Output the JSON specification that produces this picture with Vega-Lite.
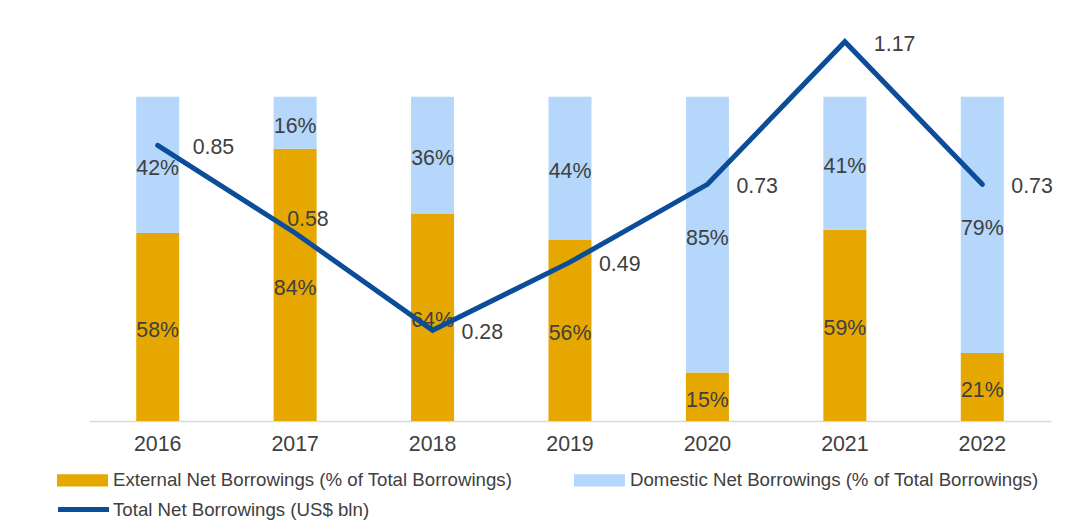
{
  "$schema": "https://vega.github.io/schema/vega-lite/v6.json",
  "width": 962,
  "height": 389,
  "autosize": {"type": "none"},
  "padding": {"left": 89, "top": 32, "right": 20, "bottom": 110},
  "background": "white",
  "config": {"view": {"stroke": null}, "font": "Liberation Sans"},
  "datasets": {
    "shares": [
      {"year": "2016", "type": "External Net Borrowings (% of Total Borrowings)", "share": 0.58},
      {"year": "2016", "type": "Domestic Net Borrowings (% of Total Borrowings)", "share": 0.42},
      {"year": "2017", "type": "External Net Borrowings (% of Total Borrowings)", "share": 0.84},
      {"year": "2017", "type": "Domestic Net Borrowings (% of Total Borrowings)", "share": 0.16},
      {"year": "2018", "type": "External Net Borrowings (% of Total Borrowings)", "share": 0.64},
      {"year": "2018", "type": "Domestic Net Borrowings (% of Total Borrowings)", "share": 0.36},
      {"year": "2019", "type": "External Net Borrowings (% of Total Borrowings)", "share": 0.56},
      {"year": "2019", "type": "Domestic Net Borrowings (% of Total Borrowings)", "share": 0.44},
      {"year": "2020", "type": "External Net Borrowings (% of Total Borrowings)", "share": 0.15},
      {"year": "2020", "type": "Domestic Net Borrowings (% of Total Borrowings)", "share": 0.85},
      {"year": "2021", "type": "External Net Borrowings (% of Total Borrowings)", "share": 0.59},
      {"year": "2021", "type": "Domestic Net Borrowings (% of Total Borrowings)", "share": 0.41},
      {"year": "2022", "type": "External Net Borrowings (% of Total Borrowings)", "share": 0.21},
      {"year": "2022", "type": "Domestic Net Borrowings (% of Total Borrowings)", "share": 0.79}
    ],
    "totals": [
      {"year": "2016", "series": "Total Net Borrowings (US$ bln)", "value": 0.85},
      {"year": "2017", "series": "Total Net Borrowings (US$ bln)", "value": 0.58},
      {"year": "2018", "series": "Total Net Borrowings (US$ bln)", "value": 0.28},
      {"year": "2019", "series": "Total Net Borrowings (US$ bln)", "value": 0.49},
      {"year": "2020", "series": "Total Net Borrowings (US$ bln)", "value": 0.73},
      {"year": "2021", "series": "Total Net Borrowings (US$ bln)", "value": 1.17},
      {"year": "2022", "series": "Total Net Borrowings (US$ bln)", "value": 0.73}
    ]
  },
  "encoding": {
    "x": {
      "field": "year",
      "type": "nominal",
      "scale": {"paddingInner": 0, "paddingOuter": 0},
      "axis": {
        "title": null,
        "labelAngle": 0,
        "labelFontSize": 21.33,
        "labelColor": "#404040",
        "ticks": false,
        "domainColor": "#D9D9D9",
        "domainWidth": 1.5,
        "labelPadding": 12
      }
    }
  },
  "layer": [
    {
      "data": {"name": "shares"},
      "mark": {"type": "bar", "size": 43},
      "encoding": {
        "y": {"field": "share", "type": "quantitative", "stack": "zero", "scale": {"domain": [0, 1.2]}, "axis": null},
        "fill": {
          "field": "type",
          "type": "nominal",
          "scale": {
            "domain": ["External Net Borrowings (% of Total Borrowings)", "Domestic Net Borrowings (% of Total Borrowings)"],
            "range": ["#E6A800", "#B4D7FB"]
          },
          "legend": {
            "title": null,
            "orient": "none",
            "legendX": -32,
            "legendY": 422.5,
            "direction": "horizontal",
            "columns": 2,
            "columnPadding": 61,
            "padding": 0,
            "symbolType": "M-1,-0.24H1V0.24H-1Z",
            "symbolSize": 2601,
            "symbolStrokeWidth": 0,
            "labelFontSize": 18.67,
            "labelColor": "#404040",
            "labelOffset": 5,
            "labelLimit": 0
          }
        },
        "order": {"field": "type", "sort": "descending"}
      }
    },
    {
      "data": {"name": "shares"},
      "transform": [
        {"stack": "share", "groupby": ["year"], "as": ["y0", "y1"], "sort": [{"field": "type", "order": "descending"}]},
        {"calculate": "(datum.y0 + datum.y1) / 2", "as": "mid"}
      ],
      "mark": {"type": "text", "fontSize": 21.33, "color": "#404040", "baseline": "middle", "align": "center", "dy": 4},
      "encoding": {
        "y": {"field": "mid", "type": "quantitative"},
        "text": {"field": "share", "type": "quantitative", "format": ".0%"}
      }
    },
    {
      "data": {"name": "totals"},
      "mark": {"type": "line", "strokeWidth": 5, "strokeCap": "round", "strokeJoin": "miter"},
      "encoding": {
        "y": {"field": "value", "type": "quantitative"},
        "stroke": {
          "field": "series",
          "type": "nominal",
          "scale": {"range": ["#0B4D98"]},
          "legend": {
            "title": null,
            "orient": "none",
            "legendX": -33.5,
            "legendY": 449.5,
            "padding": 0,
            "symbolType": "stroke",
            "symbolSize": 2601,
            "symbolStrokeWidth": 5,
            "labelFontSize": 18.67,
            "labelColor": "#404040",
            "labelOffset": 1.5,
            "labelLimit": 0
          }
        }
      }
    },
    {
      "data": {"name": "totals"},
      "transform": [{"filter": "datum.year != '2016' && datum.year != '2017'"}],
      "mark": {"type": "text", "fontSize": 21.33, "color": "#404040", "align": "left", "baseline": "middle", "dx": 29, "dy": 3},
      "encoding": {
        "y": {"field": "value", "type": "quantitative"},
        "text": {"field": "value", "type": "quantitative", "format": ".2f"}
      }
    },
    {
      "data": {"name": "totals"},
      "transform": [{"filter": "datum.year == '2016'"}],
      "mark": {"type": "text", "fontSize": 21.33, "color": "#404040", "align": "left", "baseline": "middle", "dx": 35, "dy": 3},
      "encoding": {
        "y": {"field": "value", "type": "quantitative"},
        "text": {"field": "value", "type": "quantitative", "format": ".2f"}
      }
    },
    {
      "data": {"name": "totals"},
      "transform": [{"filter": "datum.year == '2017'"}],
      "mark": {"type": "text", "fontSize": 21.33, "color": "#404040", "align": "left", "baseline": "middle", "dx": -8, "dy": -13},
      "encoding": {
        "y": {"field": "value", "type": "quantitative"},
        "text": {"field": "value", "type": "quantitative", "format": ".2f"}
      }
    }
  ]
}
